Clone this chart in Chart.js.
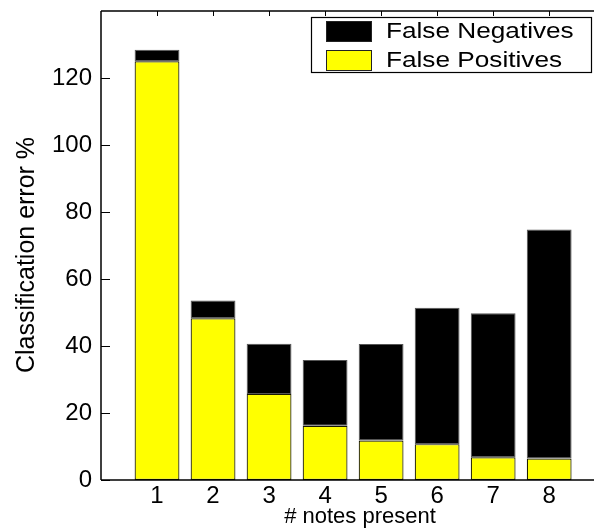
<!DOCTYPE html>
<html><head><meta charset="utf-8">
<script src="https://cdn.jsdelivr.net/npm/chart.js@4/dist/chart.umd.min.js"></script>
<style>html,body{margin:0;padding:0;overflow:hidden;background:#fff}</style>
</head><body>
<canvas id="c" width="594" height="529" style="display:block;width:594px;height:529px"></canvas>
<script>
const categories = [1, 2, 3, 4, 5, 6, 7, 8];
const falsePositives = [125, 48.3, 25.7, 16.2, 11.8, 10.7, 6.8, 6.4];
const falseNegatives = [3.4, 5.3, 15.0, 19.6, 28.8, 40.7, 43.0, 68.4];
const yTicks = [0, 20, 40, 60, 80, 100, 120];
const xTitle = '# notes present';
const yTitle = 'Classification error %';
const fpLabel = 'False Positives';
const fnLabel = 'False Negatives';

const FONT = '"Liberation Sans", Arial, Helvetica, sans-serif';

const framePlugin = {
  id: 'frame',
  afterDatasetsDraw(chart) {
    const ctx = chart.ctx;
    const a = chart.chartArea;
    const xs = chart.scales.x, ys = chart.scales.y;
    ctx.save();
    ctx.strokeStyle = '#000';
    ctx.lineWidth = 1.5;
    ctx.beginPath();
    ctx.moveTo(a.left, a.top); ctx.lineTo(a.right, a.top);
    ctx.moveTo(a.left, a.top); ctx.lineTo(a.left, a.bottom);
    ctx.moveTo(a.left, a.bottom); ctx.lineTo(a.right, a.bottom);
    ctx.stroke();
    ctx.lineWidth = 1;
    ctx.beginPath();
    yTicks.forEach(v => {
      const y = Math.round(ys.getPixelForValue(v)) + 0.5;
      ctx.moveTo(a.left, y); ctx.lineTo(a.left + 9, y);
    });
    categories.forEach(c => {
      const x = Math.round(xs.getPixelForValue(c)) + 0.5;
      ctx.moveTo(x, a.top); ctx.lineTo(x, a.top + 5);
    });
    ctx.stroke();

    // axis titles
    ctx.fillStyle = '#000';
    ctx.textAlign = 'center';
    ctx.textBaseline = 'middle';
    ctx.font = '22px ' + FONT;
    ctx.fillText(xTitle, 360, 517);
    ctx.save();
    ctx.translate(27, 255);
    ctx.rotate(-Math.PI / 2);
    ctx.font = '25px ' + FONT;
    ctx.fillText(yTitle, 0, 0);
    ctx.restore();

    // legend
    const bx = 311, by = 17, bw = 280, bh = 55;
    ctx.fillStyle = '#fff';
    ctx.fillRect(bx, by, bw, bh);
    ctx.lineWidth = 1.2;
    ctx.strokeStyle = '#000';
    ctx.strokeRect(bx + 0.5, by + 0.5, bw, bh);
    const items = [chart.data.datasets[1], chart.data.datasets[0]];
    items.forEach((ds, i) => {
      const sy = 21 + i * 29;
      ctx.fillStyle = ds.backgroundColor;
      ctx.fillRect(326, sy, 45, 20);
      ctx.lineWidth = 1;
      ctx.strokeStyle = '#222';
      ctx.strokeRect(326.5, sy + 0.5, 45, 20);
      ctx.save();
      ctx.translate(386, sy + 11);
      ctx.scale(1.19, 1);
      ctx.fillStyle = '#000';
      ctx.font = '22px ' + FONT;
      ctx.textBaseline = 'middle';
      ctx.textAlign = 'left';
      ctx.fillText(ds.label, 0, 0);
      ctx.restore();
    });
    ctx.restore();
  }
};

new Chart(document.getElementById('c'), {
  type: 'bar',
  data: {
    datasets: [
      {
        label: fpLabel,
        data: categories.map((c, i) => ({ x: c, y: falsePositives[i] })),
        backgroundColor: '#ffff00',
        borderColor: '#1a1a00',
        borderWidth: 1.2,
        borderSkipped: false,
        categoryPercentage: 1,
        barPercentage: 0.8
      },
      {
        label: fnLabel,
        data: categories.map((c, i) => ({ x: c, y: falseNegatives[i] })),
        backgroundColor: '#000000',
        borderColor: '#555555',
        borderWidth: 1,
        borderSkipped: false,
        categoryPercentage: 1,
        barPercentage: 0.8
      }
    ]
  },
  options: {
    responsive: false,
    animation: false,
    devicePixelRatio: 1,
    layout: { padding: { top: 11, right: 0, left: 0, bottom: 0 } },
    plugins: { legend: { display: false }, tooltip: { enabled: false } },
    scales: {
      x: {
        type: 'linear',
        stacked: true,
        offset: false,
        min: 0,
        max: 8.8,
        afterBuildTicks: s => { s.ticks = categories.map(v => ({ value: v })); },
        afterFit: s => { s.height = 49; s.paddingLeft = 0; s.paddingRight = 0; },
        grid: { display: false, drawTicks: false, offset: false },
        border: { display: false },
        ticks: { color: '#000', font: { family: FONT, size: 24 }, padding: 2, autoSkip: false, maxRotation: 0 },
        title: { display: false, text: xTitle }
      },
      y: {
        stacked: true,
        min: 0,
        max: 140,
        afterBuildTicks: s => { s.ticks = yTicks.map(v => ({ value: v })); },
        afterFit: s => { s.width = 101; s.paddingTop = 0; s.paddingBottom = 0; },
        grid: { display: false, drawTicks: false },
        border: { display: false },
        ticks: { color: '#000', font: { family: FONT, size: 24 }, padding: 9 },
        title: { display: false, text: yTitle }
      }
    }
  },
  plugins: [framePlugin]
});
</script>
</body></html>
